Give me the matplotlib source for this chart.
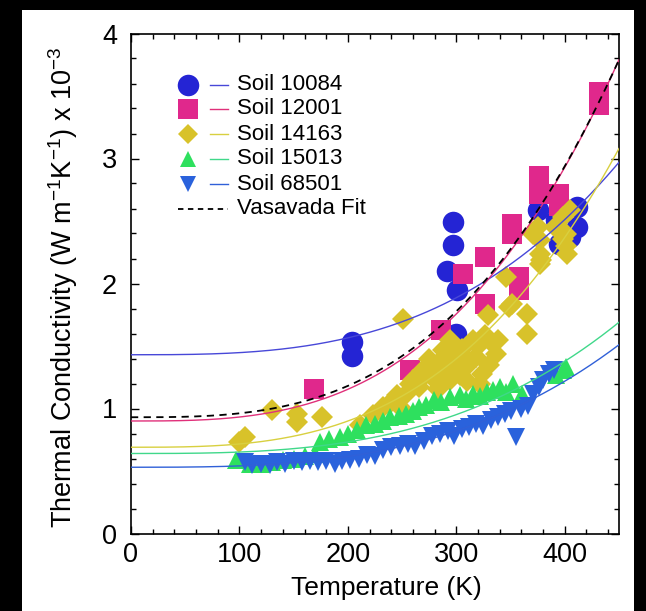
import matplotlib
matplotlib.use("Agg")
import matplotlib.pyplot as plt
import numpy as np
from matplotlib.patches import Rectangle

plt.rcParams['font.family'] = ['Liberation Sans', 'DejaVu Sans']
plt.rcParams['mathtext.fontset'] = 'custom'
plt.rcParams['mathtext.rm'] = 'Liberation Sans'

# ---------------- data ----------------
labels = ["Soil 10084", "Soil 12001", "Soil 14163", "Soil 15013", "Soil 68501"]

t_10084 = [204, 204, 297, 297, 291, 301, 300, 375, 392, 411, 411, 395, 405]
k_10084 = [1.53, 1.42, 2.49, 2.31, 2.10, 1.95, 1.60, 2.59, 2.51, 2.61, 2.45, 2.32, 2.37]

t_12001 = [169, 257, 286, 306, 326, 326, 351, 351, 358, 358, 376, 376, 395, 395, 432, 432]
k_12001 = [1.16, 1.31, 1.63, 2.08, 2.21, 1.84, 2.48, 2.40, 2.05, 1.95, 2.86, 2.72, 2.72, 2.62, 3.53, 3.43]

t_14163 = [100, 105, 130, 153, 153, 176, 211, 223, 232, 245, 260, 251, 251, 254, 266, 263,
           272, 282, 285, 294, 288, 294, 303, 309, 318, 324, 326, 334, 337, 329, 349, 346,
           351, 365, 365, 371, 375, 377, 377, 378, 377, 391, 398, 405, 401, 398, 401, 402,
           300, 315, 275, 240, 257, 268, 278, 290, 297, 305, 312, 320, 330, 338, 310, 322,
           283, 295]
k_14163 = [0.73, 0.77, 0.99, 0.96, 0.89, 0.93, 0.87, 0.95, 1.01, 1.11, 1.23, 1.72, 0.99, 1.12, 1.17, 1.23,
           1.28, 1.36, 1.23, 1.23, 1.47, 1.55, 1.27, 1.33, 1.41, 1.28, 1.59, 1.52, 1.44, 1.75, 1.81, 2.05,
           1.84, 1.76, 1.60, 2.40, 2.45, 2.35, 2.24, 2.19, 2.16, 2.45, 2.53, 2.59, 2.40, 2.36, 2.30, 2.24,
           1.42, 1.55, 1.40, 1.05, 1.20, 1.30, 1.25, 1.38, 1.43, 1.48, 1.38, 1.50, 1.35, 1.55, 1.22, 1.20,
           1.16, 1.30]

t_15013 = [97, 110, 120, 130, 140, 150, 160, 170, 174, 183, 193, 200, 208, 217, 225, 232, 239, 247,
           254, 260, 266, 272, 279, 286, 294, 303, 309, 315, 322, 328, 334, 340, 346, 352, 361, 392, 398, 401]
k_15013 = [0.59, 0.56, 0.56, 0.57, 0.59, 0.60, 0.62, 0.64, 0.73, 0.76, 0.77, 0.80, 0.83, 0.87, 0.88, 0.90,
           0.93, 0.94, 0.96, 0.98, 1.01, 1.03, 1.07, 1.05, 1.09, 1.11, 1.08, 1.12, 1.10, 1.13, 1.15, 1.17,
           1.13, 1.20, 1.12, 1.27, 1.31, 1.33]

t_68501 = [105, 112, 120, 128, 135, 142, 150, 158, 165, 172, 180, 188, 195, 202, 210, 218, 225, 232,
           240, 248, 255, 262, 270, 278, 285, 292, 298, 305, 312, 318, 325, 332, 338, 345, 350, 355,
           360, 366, 371, 376, 380, 385, 390]
k_68501 = [0.57, 0.55, 0.56, 0.55, 0.57, 0.56, 0.58, 0.57, 0.58, 0.57, 0.58, 0.56, 0.58, 0.59, 0.60, 0.63,
           0.62, 0.67, 0.69, 0.70, 0.72, 0.70, 0.74, 0.78, 0.80, 0.82, 0.78, 0.84, 0.85, 0.88, 0.86, 0.91,
           0.93, 0.96, 0.98, 0.77, 1.00, 1.02, 1.12, 1.17, 1.23, 1.28, 1.31]

# fitted curves k(T) = k0 + dk * (T / T_ref)^3   (k0 at 0 K, k0+dk at T_ref)
fit_names = ["Soil 10084", "Soil 12001", "Soil 14163", "Soil 15013", "Soil 68501", "Vasavada Fit"]
fit_k0 = [1.43, 0.90, 0.69, 0.64, 0.53, 0.93]
fit_kend = [2.97, 3.79, 3.08, 1.69, 1.51, 3.79]
T_ref = 450

# ---------------- style ----------------
mk_colors = ["#2424d4", "#e0288c", "#d8c22a", "#2ee05e", "#2a62dc"]
ln_colors = ["#4848d8", "#e0307a", "#d8d040", "#40d88a", "#3060d8"]
markers = ["o", "s", "D", "^", "v"]
msizes = [15.5, 14.5, 11.0, 12.5, 12.5]
leg_sizes = [15.5, 14.0, 10.5, 12.0, 12.0]

W, H = 646, 611
fig = plt.figure(figsize=(W / 100, H / 100), dpi=100, facecolor="black")
fig.patches.append(Rectangle((22 / W, 0), (634 - 22) / W, (611 - 10) / H,
                             transform=fig.transFigure, facecolor="white",
                             edgecolor="none", zorder=-10))

ax = fig.add_axes([131 / W, (H - 533.5) / H, (619 - 131) / W, 500 / H])
ax.set_zorder(1)
ax.set_facecolor("white")

xs_all = [t_10084, t_12001, t_14163, t_15013, t_68501]
ys_all = [k_10084, k_12001, k_14163, k_15013, k_68501]
for i in range(5):
    ax.plot(xs_all[i], ys_all[i], linestyle="none", marker=markers[i],
            markersize=msizes[i], color=mk_colors[i], markeredgewidth=0,
            zorder=2 + i * 0.1)

T = np.linspace(0, 450, 400)
for i in range(6):
    k = fit_k0[i] + (fit_kend[i] - fit_k0[i]) * (T / T_ref) ** 3
    if i < 5:
        ax.plot(T, k, color=ln_colors[i], lw=1.0, zorder=4)
    else:
        ax.plot(T, k, color="black", lw=1.3, ls=(0, (4, 3)), zorder=4.5)

ax.set_xlim(0, 450)
ax.set_ylim(0, 4)
ax.set_xticks([0, 100, 200, 300, 400])
ax.set_yticks([0, 1, 2, 3, 4])
ax.set_xticks(np.arange(0, 451, 20), minor=True)
ax.set_yticks(np.arange(0, 4.01, 0.2), minor=True)
ax.tick_params(which="both", direction="in", top=True, right=True, width=1.0, color="black")
ax.tick_params(which="major", length=6, labelsize=19.5, pad=6)
ax.tick_params(which="minor", length=3.5)
ax.tick_params(axis="y", which="major", pad=10)
for s in ax.spines.values():
    s.set_linewidth(1.2)

ax.set_xlabel("Temperature (K)", fontsize=19)
ax.xaxis.set_label_coords((386 - 131) / (619 - 131), -0.084)
ax.set_ylabel(r"Thermal Conductivity (W m$^{\mathregular{-1}}$K$^{\mathregular{-1}}$) x 10$^{\mathregular{-3}}$",
              fontsize=19.5)
ax.yaxis.set_label_coords(-(131 - 80) / (619 - 131), 0.493)

# ---------------- legend (drawn by hand) ----------------
leg_rows_y = [85, 109, 134, 159, 184, 209]  # pixel rows
def px2ax(x, y):
    return (x - 131) / (619 - 131), (533.5 - y) / 500

for i, name in enumerate(fit_names):
    _, ya = px2ax(0, leg_rows_y[i])
    xm, _ = px2ax(188, 0)
    xl0, _ = px2ax(210, 0)
    xl1, _ = px2ax(228, 0)
    xt, _ = px2ax(237, 0)
    if i < 5:
        ax.plot([xm], [ya], marker=markers[i], markersize=leg_sizes[i],
                color=mk_colors[i], markeredgewidth=0, transform=ax.transAxes,
                zorder=6, clip_on=False)
        ax.plot([xl0, xl1], [ya, ya], color=ln_colors[i], lw=1.0,
                transform=ax.transAxes, zorder=6)
    else:
        x0, _ = px2ax(178, 0)
        ax.plot([x0, xl1], [ya, ya], color="black", lw=1.3, ls=(0, (3, 2.5)),
                transform=ax.transAxes, zorder=6)
    ax.text(xt, ya, name, fontsize=16, va="center", ha="left",
            transform=ax.transAxes, zorder=6)

fig.savefig("out.png", dpi=100, facecolor="black")
